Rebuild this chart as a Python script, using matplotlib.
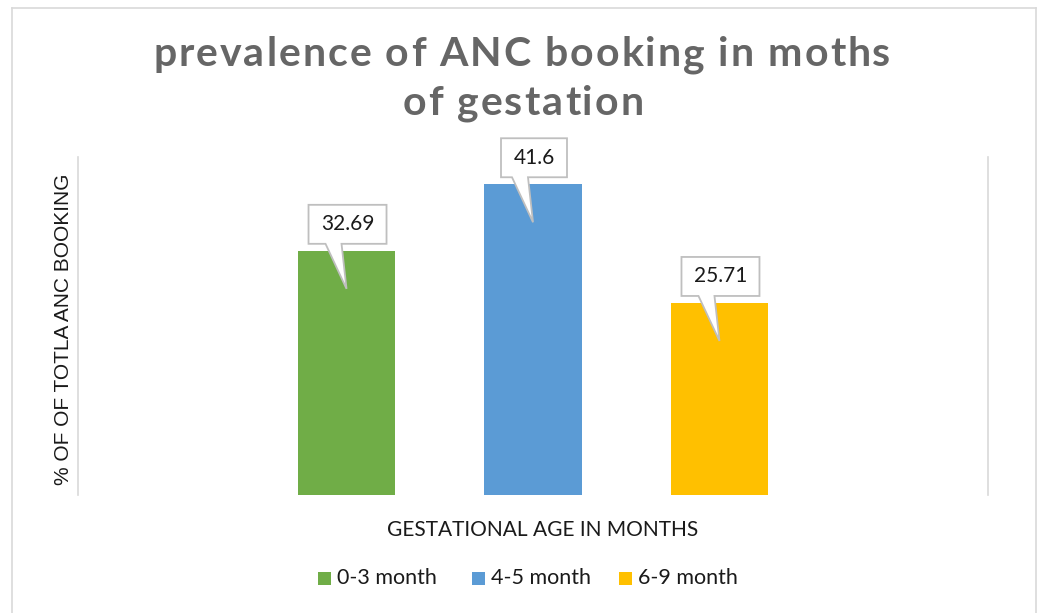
import matplotlib
matplotlib.use("Agg")
import matplotlib.pyplot as plt
import matplotlib.transforms as mtransforms
from matplotlib.patches import Polygon, Rectangle
from matplotlib.lines import Line2D

# data
series = ["0-3 month", "4-5 month", "6-9 month"]
values = [32.69, 41.6, 25.71]
labels = ["32.69", "41.6", "25.71"]
colors = ["#70ad47", "#5b9bd5", "#ffc000"]
title_lines = ["prevalence of ANC booking in moths", "of gestation"]

W, H = 1039, 613
fig = plt.figure(figsize=(W / 100, H / 100), dpi=100)
renderer = fig.canvas.get_renderer()


def spaced_text(xc, ybase, s, spacing, **kw):
    # draw a string with extra letter spacing (pixels), centred at xc
    def width(sub):
        t = fig.text(0, 0, sub, **kw)
        w = t.get_window_extent(renderer).width
        t.remove()
        return w
    total = width(s) + spacing * (len(s) - 1)
    x0 = xc - total / 2
    for i, ch in enumerate(s):
        if ch == " ":
            continue
        r = width(s[:i + 1])
        fig.text((x0 + r + spacing * i) / W, 1 - ybase / H, ch, ha="right", va="baseline", **kw)


# outer chart border
for xs, ys in [([12, 1036], [8, 8]), ([1036, 1036], [8, 613]), ([12, 12], [8, 613])]:
    fig.add_artist(Line2D([x / W for x in xs], [1 - y / H for y in ys], color="#d9d9d9", lw=1.2))

ax = fig.add_axes([78 / W, (H - 495) / H, (988 - 78) / W, (495 - 157) / H])
offsets = [-1, 0, 1]
for off, v, c, s in zip(offsets, values, colors, series):
    ax.bar(off, v, width=0.525, color=c, label=s)

ax.set_xlim(-2.44, 2.44)
ax.set_ylim(0, 45.25)
for side in ["top", "bottom"]:
    ax.spines[side].set_visible(False)
for side in ["left", "right"]:
    ax.spines[side].set_color("#d9d9d9")
    ax.spines[side].set_linewidth(1.2)
ax.set_xticks([])
ax.set_yticks([])

# callout labels (vertices in pixels relative to bar top)
for off, v, lab in zip(offsets, values, labels):
    bw = 78 if len(lab) > 4 else 66
    x0, x1 = 1 - bw / 2, 1 + bw / 2
    y0, y1 = 7, 46
    pts = [(x0, y0), (-21, y0), (0, -38), (-5, y0), (x1, y0), (x1, y1), (x0, y1)]
    pts = [(px / 100, py / 100) for px, py in pts]
    tr = fig.dpi_scale_trans + mtransforms.ScaledTranslation(off, v, ax.transData)
    ax.add_patch(Polygon(pts, closed=True, facecolor="white", edgecolor="#bfbfbf",
                         lw=1.3, transform=tr, clip_on=False, zorder=5))
    ax.text(1 / 100, (y0 + y1) / 200, lab, transform=tr, ha="center", va="center",
            fontsize=15, family="Lato", color="#1a1a1a", zorder=6)

title_kw = dict(fontsize=29.5, fontweight="bold", family="Lato", color="#666666")
spaced_text(522, 66, title_lines[0], 2.0, **title_kw)
spaced_text(523, 115, title_lines[1], 2.0, **title_kw)

fig.text(64 / W, 1 - 329 / H, "% OF OF TOTLA ANC BOOKING", rotation=90, ha="center", va="center",
         fontsize=15, family="Liberation Sans", color="#1a1a1a")
fig.text(543 / W, 1 - 530 / H, "GESTATIONAL AGE IN MONTHS", ha="center", va="center",
         fontsize=15, family="Lato", color="#1a1a1a")

# legend, placed entry by entry
legend_x = [318, 472, 619]
for lx, c, s in zip(legend_x, colors, series):
    fig.add_artist(Rectangle((lx / W, 1 - 585 / H), 13 / W, 13 / H, facecolor=c,
                             edgecolor="none", transform=fig.transFigure))
    fig.text((lx + 19) / W, 1 - 578 / H, s, ha="left", va="center",
             fontsize=15.5, family="Lato", color="#1a1a1a")

fig.savefig("out.png", dpi=100)
